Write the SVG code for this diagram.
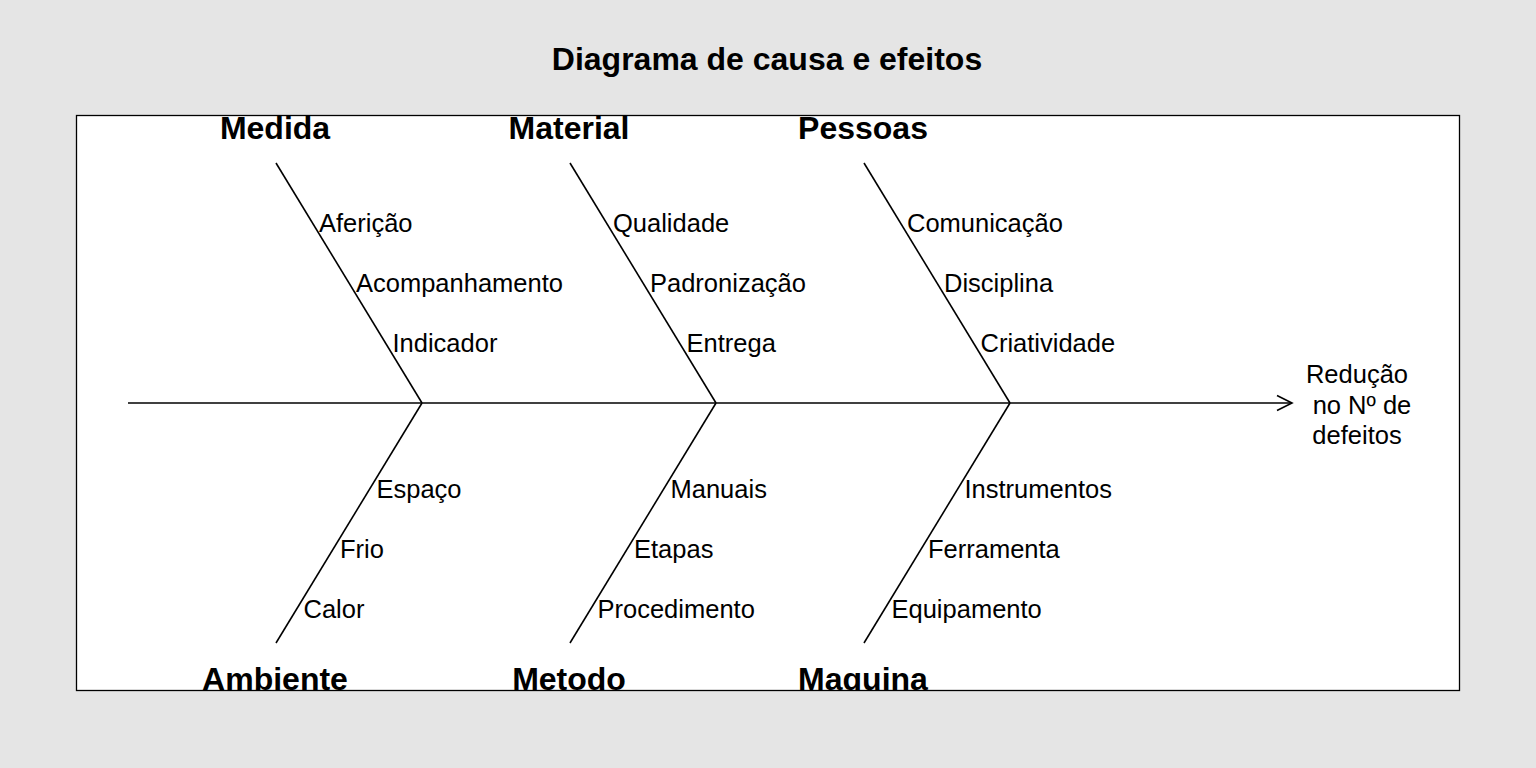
<svg xmlns="http://www.w3.org/2000/svg" width="1536" height="768" viewBox="0 0 1536 768">
  <defs>
    <style>
      .bone { stroke: #000; stroke-width: 1.6; fill: none; }
      .cause { font-family: "Liberation Sans", Arial, sans-serif; font-size: 25.5px; fill: #000; }
      .cat { font-family: "Liberation Sans", Arial, sans-serif; font-size: 32px; font-weight: bold; fill: #000; text-anchor: middle; }
      .title { font-family: "Liberation Sans", Arial, sans-serif; font-size: 32px; font-weight: bold; fill: #000; text-anchor: middle; }
      .effect { font-family: "Liberation Sans", Arial, sans-serif; font-size: 25.5px; fill: #000; text-anchor: middle; }
    </style>
    <clipPath id="plotclip">
      <rect x="76.5" y="115.5" width="1383" height="575"/>
    </clipPath>
  </defs>
  <rect x="0" y="0" width="1536" height="768" fill="#E5E5E5"/>
  <rect x="76.5" y="115.5" width="1383" height="575" fill="#FFFFFF"/>
  <text class="title" x="767" y="70">Diagrama de causa e efeitos</text>

  <g id="connectors">
    <line class="bone" x1="128" y1="403" x2="1292" y2="403"/>
    <polyline class="bone" points="1277,395.5 1292,403 1277,410.5"/>
    <line class="bone" x1="276" y1="163" x2="422" y2="403"/>
    <line class="bone" x1="570" y1="163" x2="716" y2="403"/>
    <line class="bone" x1="864" y1="163" x2="1010" y2="403"/>
    <line class="bone" x1="422" y1="403" x2="276" y2="643"/>
    <line class="bone" x1="716" y1="403" x2="570" y2="643"/>
    <line class="bone" x1="1010" y1="403" x2="864" y2="643"/>
  </g>

  <g id="effect">
    <text class="effect" x="1357" y="383">Redução</text>
    <text class="effect" x="1362" y="414">no Nº de</text>
    <text class="effect" x="1357" y="444">defeitos</text>
  </g>

  <g id="medida">
    <text class="cat" x="275" y="139">Medida</text>
    <text class="cause" x="319" y="232">Aferição</text>
    <text class="cause" x="356" y="292">Acompanhamento</text>
    <text class="cause" x="392.5" y="352">Indicador</text>
  </g>
  <g id="material">
    <text class="cat" x="569" y="139">Material</text>
    <text class="cause" x="613" y="232">Qualidade</text>
    <text class="cause" x="650" y="292">Padronização</text>
    <text class="cause" x="686.5" y="352">Entrega</text>
  </g>
  <g id="pessoas">
    <text class="cat" x="863" y="139">Pessoas</text>
    <text class="cause" x="907" y="232">Comunicação</text>
    <text class="cause" x="944" y="292">Disciplina</text>
    <text class="cause" x="980.5" y="352">Criatividade</text>
  </g>
  <g id="ambiente">
    <text class="cause" x="376.5" y="498">Espaço</text>
    <text class="cause" x="340" y="558">Frio</text>
    <text class="cause" x="303.5" y="618">Calor</text>
    <text class="cat" x="275" y="690" clip-path="url(#plotclip)">Ambiente</text>
  </g>
  <g id="metodo">
    <text class="cause" x="670.5" y="498">Manuais</text>
    <text class="cause" x="634" y="558">Etapas</text>
    <text class="cause" x="597.5" y="618">Procedimento</text>
    <text class="cat" x="569" y="690" clip-path="url(#plotclip)">Metodo</text>
  </g>
  <g id="maquina">
    <text class="cause" x="964.5" y="498">Instrumentos</text>
    <text class="cause" x="928" y="558">Ferramenta</text>
    <text class="cause" x="891.5" y="618">Equipamento</text>
    <text class="cat" x="863" y="690" clip-path="url(#plotclip)">Maquina</text>
  </g>

  <rect x="76.5" y="115.5" width="1383" height="575" fill="none" stroke="#000" stroke-width="1.3"/>
</svg>
